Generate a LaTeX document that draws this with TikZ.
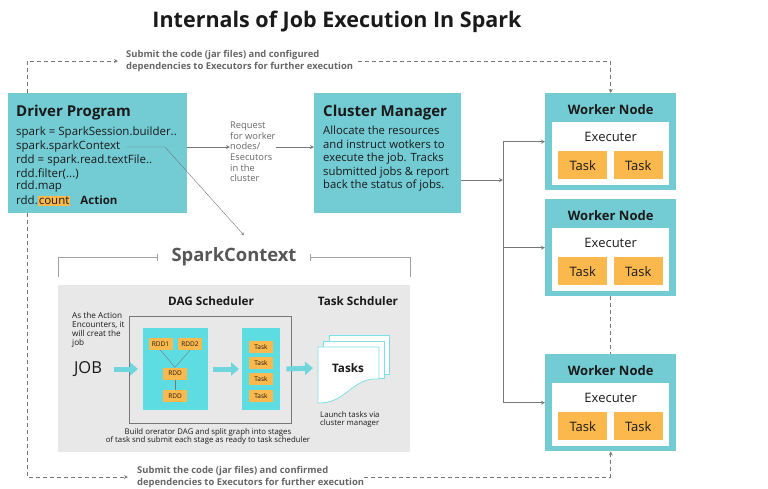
\documentclass[tikz,border=0pt]{standalone}
\usepackage{fontspec}
\setmainfont{Open Sans}
\usetikzlibrary{arrows,arrows.meta,positioning,shapes.geometric}

\definecolor{sparkteal}{HTML}{73CBD4}
\definecolor{stagecyan}{HTML}{5DDDE2}
\definecolor{fatcyan}{HTML}{6FD6DE}
\definecolor{pagecyan}{HTML}{7DE0E6}
\definecolor{taskorange}{HTML}{FBB84C}
\definecolor{panelgray}{HTML}{E8E8E8}
\definecolor{linegray}{HTML}{777777}
\definecolor{notegray}{HTML}{666666}
\definecolor{inkblack}{HTML}{1A1A1A}

\begin{document}
\begin{tikzpicture}[
    x=1pt, y=-1pt,
    every node/.style={text=inkblack},
    box/.style={rectangle, fill=sparkteal, anchor=north west, inner sep=0},
    hd/.style={font=\bfseries\fontsize{15}{17}\selectfont, anchor=west, inner sep=0},
    code/.style={font=\fontsize{11.5}{12}\selectfont, anchor=west, inner sep=0},
    note/.style={font=\fontsize{9.3}{10.6}\selectfont, text=notegray, align=left, anchor=west, inner sep=0},
    subnote/.style={font=\bfseries\fontsize{9.4}{12}\selectfont, text=notegray, align=left, anchor=west, inner sep=0},
    tiny/.style={font=\fontsize{7.8}{8.8}\selectfont, align=left, inner sep=0},
    exbox/.style={rectangle, fill=white, anchor=north, minimum width=117, minimum height=63, inner sep=0},
    task/.style={rectangle, fill=taskorange, minimum width=49, minimum height=28, inner sep=0, font=\fontsize{13}{14}\selectfont},
    rdd/.style={rectangle, fill=taskorange, minimum width=24, minimum height=12, inner sep=0, font=\fontsize{6.5}{7}\selectfont},
    arrow/.style={-stealth, draw=linegray, thick},
    dsh/.style={-stealth, draw=linegray, thick, dash pattern=on 4pt off 3pt},
    fat/.style={-{Triangle[length=8pt,width=13pt]}, draw=fatcyan, line width=5pt},
    brk/.style={draw=linegray!70, thick},
    page/.style={draw=pagecyan, fill=white, thick}
]
\useasboundingbox (0,0) rectangle (768,488);

% Title
\node[font=\bfseries\fontsize{21.5}{24}\selectfont] (title) at (337,22) {Internals of Job Execution In Spark};

% Driver program
\node[box, minimum width=179, minimum height=120] (drv) at (8,93) {};
\node[hd] (drvhd) at (16,113) {Driver Program};
\node[code] (l1) at (16,133) {spark = SparkSession.builder..};
\node[code] (l2) at (16,147) {spark.sparkContext};
\node[code] (l3) at (16,161) {rdd = spark.read.textFile..};
\node[code] (l4) at (16,174) {rdd.filter(...)};
\node[code] (l5) at (16,187) {rdd.map};
\node[code] (l6) at (16,201) {rdd.{\setlength\fboxsep{1pt}\colorbox{taskorange}{count}}\hspace{10pt}\textbf{Action}};

% Request note
\node[note] (req) at (230,152) {Request\\for worker\\nodes/\\Esecutors\\in the\\cluster};

% Cluster manager
\node[box, minimum width=147, minimum height=120] (cm) at (314,93) {};
\node[hd] (cmhd) at (323,113) {Cluster Manager};
\node[code, align=left, anchor=north west, font=\fontsize{11.3}{13.5}\selectfont] (cmtxt) at (323,126)
    {Allocate the resources\\and instruct wotkers to\\execute the job. Tracks\\submitted jobs \& report\\back the status of jobs.};

\draw[arrow] (drv.east |- l2) -- (req.west |- l2);
\draw[arrow] (req.east |- l2) -- (cm.west |- l2);

% Worker nodes
\foreach \n/\y in {wn1/93, wn2/199, wn3/354}{
    \node[box, minimum width=131, minimum height=97] (\n) at (545,\y) {};
    \node[font=\bfseries\fontsize{13}{14}\selectfont] (\n-hd) at ([yshift=-17pt]\n.north) {Worker Node};
    \node[exbox] (\n-ex) at ([yshift=-29pt]\n.north) {};
    \node[font=\fontsize{13}{14}\selectfont] (\n-lb) at ([yshift=-15pt]\n-ex.north) {Executer};
    \node[task] (\n-t1) at ([xshift=-28pt,yshift=20pt]\n-ex.south) {Task};
    \node[task] (\n-t2) at ([xshift=27.5pt,yshift=20pt]\n-ex.south) {Task};
}

% Cluster manager to workers
\coordinate (bus) at (503,180);
\draw[arrow] (cm.east |- bus) -- (bus);
\draw[linegray, thick] (bus |- wn1.west) -- (bus |- wn3.west);
\foreach \n in {wn1, wn2, wn3}
    \draw[arrow] (bus |- \n.west) -- (\n.west);
\draw[dsh, -] (wn2.south) -- (wn3.north);

% Submit notes
\node[subnote] (topnote) at (126,61) {Submit the code (jar files) and configured\\dependencies to Executors for further execution};
\node[subnote] (botnote) at (137,477) {Submit the code (jar files) and confirmed\\dependencies to Executors for further execution};
\draw[dsh, shorten >=8pt] ([xshift=19pt]drv.north west) |- (topnote.west);
\draw[dsh, shorten <=5pt] (topnote.east) -| (wn1.north);
\draw[dsh, shorten >=9pt] ([xshift=19pt]drv.south west) |- (botnote.west);
\draw[dsh] (botnote.east) -| (wn3.south);

% SparkContext
\node[rectangle, fill=panelgray, anchor=north west, minimum width=352, minimum height=167, inner sep=0] (ctx) at (58,285) {};
\node[font=\bfseries\fontsize{18.4}{20}\selectfont, text=notegray!85!black] (sctx) at (234,257) {SparkContext};
\draw[brk, -{Bar[width=7pt]}] ([yshift=8pt]ctx.north west) |- ([xshift=-10pt]sctx.west);
\draw[brk, -{Bar[width=7pt]}] ([yshift=8pt]ctx.north east) |- ([xshift=10pt]sctx.east);
\draw[linegray, -stealth] ([xshift=6pt]l2.east) -- (165,147) -- ([shift={(10pt,9pt)}]sctx.north);

% DAG scheduler
\node[font=\bfseries\fontsize{11.7}{13}\selectfont] (daghd) at (211,301) {DAG Scheduler};
\node[font=\bfseries\fontsize{11.7}{13}\selectfont] (tshd) at (358,301) {Task Schduler};
\node[tiny, anchor=north west, font=\fontsize{8.2}{9}\selectfont] (enc) at (72,312) {As the Action\\Encounters, it\\will creat the\\job};
\node[font=\fontsize{16.5}{18}\selectfont] (job) at (88,369) {JOB};

\node[rectangle, draw=linegray, thick, anchor=north west, minimum width=162, minimum height=107, inner sep=0] (dag) at (129,316) {};
\node[rectangle, fill=stagecyan, anchor=north west, minimum width=65, minimum height=82, inner sep=0] (st1) at (143,328) {};
\node[rectangle, fill=stagecyan, anchor=north west, minimum width=38, minimum height=82, inner sep=0] (st2) at (242,328) {};

\node[rdd] (r1) at (160.5,344) {RDD1};
\node[rdd] (r2) at (190,344) {RDD2};
\node[rdd] (r3) at (175,373.5) {RDD};
\node[rdd] (r4) at (175,396) {RDD};
\draw[linegray] (r1.south) -- (r3.north);
\draw[linegray] (r2.south) -- (r3.north);
\draw[linegray] (r3.south) -- (r4.north);

\foreach \i/\y in {1/347, 2/363, 3/379, 4/396}
    \node[rdd] (s\i) at (261,\y) {Task};

% Task pages
\filldraw[page] (329,335) rectangle (389,374);
\filldraw[page] (323.5,341) rectangle (384,378);
\filldraw[page] (318,347) -- (379,347) -- (379,379) .. controls (352,377) and (346,404) .. (318,403) -- cycle;
\coordinate (pg) at (318,368);
\node[font=\bfseries\fontsize{11.7}{13}\selectfont] (tsk) at (348,368) {Tasks};

\draw[fat] ([xshift=8pt]job.east) -- ([xshift=-5pt]st1.west |- job);
\draw[fat] ([xshift=5pt]st1.east |- job) -- ([xshift=-3pt]st2.west |- job);
\draw[fat] ([xshift=6pt]st2.east |- job) -- ([xshift=-5pt]pg);

\node[tiny, anchor=north west] (launch) at (320,411) {Launch tasks via\\cluster manager};
\node[tiny, align=center, anchor=north] (build) at (208,428) {Build orerator DAG and split graph into stages\\of task snd submit each stage as ready to task scheduler};

\end{tikzpicture}
\end{document}
